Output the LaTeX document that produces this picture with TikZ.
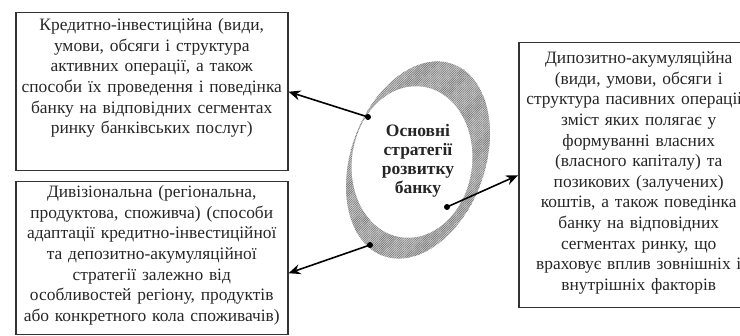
\documentclass[tikz,border=0pt]{standalone}
\usepackage{fontspec}
\setmainfont{Liberation Serif}
\usetikzlibrary{arrows.meta,patterns.meta}

\tikzset{
    box/.style={draw=black!80, line width=1.5pt, anchor=north west, align=center,
        inner xsep=2pt, inner ysep=0pt, text=black!85, font=\fontsize{17.4}{20.6}\selectfont},
    dot/.style={circle, fill=black, inner sep=0pt, minimum size=6pt},
    link/.style={line width=1.6pt, -{Stealth[length=12pt, width=10pt, inset=4pt]}}
}

\begin{document}
\begin{tikzpicture}[x=1pt, y=1pt]
    \useasboundingbox (0,0) rectangle (740,336);
    % ring round the core
    \path[preaction={fill=gray!35}, pattern={Lines[angle=45, distance=1.6pt, line width=.6pt]}, pattern color=black!55]
        (418,176) ellipse [x radius=67, y radius=102, rotate=-20];
    \fill[white] (412,174) ellipse [x radius=60, y radius=76, rotate=-8];
    \node[font=\bfseries\fontsize{17.5}{19}\selectfont, align=center, text=black!85] (core) at (418,175)
        {Основні\\ стратегії\\ розвитку\\ банку};

    \node[box, text width=268pt, text height=18pt, text depth=140pt] (credit) at (15,324)
        {Кредитно-інвестиційна (види,\\ умови, обсяги і структура\\ активних операції, а також\\
         способи їх проведення і поведінка\\ банку на відповідних сегментах\\ ринку банківських послуг)};
    \node[box, text width=268pt, text height=16pt, text depth=137pt] (division) at (15,155)
        {Дивізіональна (регіональна,\\ продуктова, споживча) (способи\\ адаптації кредитно-інвестиційної\\
         та депозитно-акумуляційної\\ стратегії залежно від\\ особливостей регіону, продуктів\\
         або конкретного кола споживачів)};
    \node[box, text width=236pt, text height=21pt, text depth=244pt] (deposit) at (518,294)
        {Дипозитно-акумуляційна\\ (види, умови, обсяги і\\ структура пасивних операцій,\\ зміст яких полягає у\\
         формуванні власних\\ (власного капіталу) та\\ позикових (залучених)\\ коштів, а також поведінка\\
         банку на відповідних\\ сегментах ринку, що\\ враховує вплив зовнішніх і\\ внутрішніх факторів};

    \node[dot] (d1) at (368,219) {};
    \node[dot] (d2) at (447,129) {};
    \node[dot] (d3) at (370,91) {};
    \draw[link] (d1.center) -- (credit.east);
    \draw[link] (d2.center) -- (deposit.west);
    \draw[link] (d3.center) -- ([yshift=-15pt]division.east);
\end{tikzpicture}
\end{document}
